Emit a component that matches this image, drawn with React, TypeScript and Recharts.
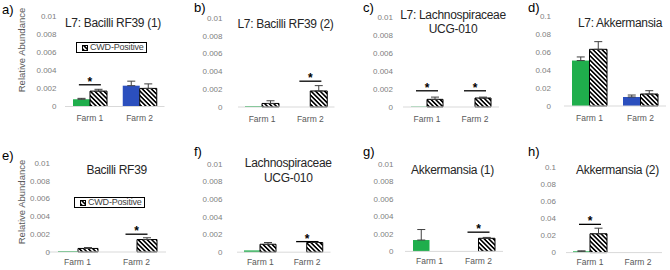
import React from 'react';
import { ComposedChart, Bar, XAxis, YAxis, ErrorBar, Line, Cell } from 'recharts';

// ---------- DATA ----------
const farms = ['Farm 1', 'Farm 2'];
const smallTicks = [0, 0.002, 0.004, 0.006, 0.008, 0.01];
const largeTicks = [0, 0.02, 0.04, 0.06, 0.08, 0.1];

// a) L7: Bacilli RF39 (1)
const aNeg = [0.0008, 0.0023];
const aNegErr = [0.0001, 0.0005];
const aPos = [0.0017, 0.002];
const aPosErr = [0.0002, 0.0005];
const aSig = [0.0024, null];

// b) L7: Bacilli RF39 (2)
const bNeg = [0.0001, 0];
const bNegErr = [null, null];
const bPos = [0.0004, 0.0018];
const bPosErr = [0.0003, 0.0006];
const bSig = [null, 0.0029];

// c) L7: Lachnospiraceae UCG-010
const cNeg = [0.00005, 0];
const cNegErr = [null, null];
const cPos = [0.00085, 0.001];
const cPosErr = [0.00025, 0.0001];
const cSig = [0.0018, 0.0018];

// d) L7: Akkermansia
const dNeg = [0.0505, 0.01];
const dNegErr = [0.004, 0.0022];
const dPos = [0.063, 0.0133];
const dPosErr = [0.0085, 0.0037];
const dSig = [null, null];

// e) Bacilli RF39
const eNeg = [0.0001, 0];
const eNegErr = [null, null];
const ePos = [0.0004, 0.0014];
const ePosErr = [0.0001, 0.0002];
const eSig = [null, 0.002];

// f) Lachnospiraceae UCG-010
const fNeg = [0.0002, 0];
const fNegErr = [null, null];
const fPos = [0.0009, 0.0011];
const fPosErr = [0.0002, 0.0001];
const fSig = [null, 0.0012];

// g) Akkermansia (1)
const gNeg = [0.0013, 0];
const gNegErr = [0.0012, null];
const gPos = [0, 0.0015];
const gPosErr = [null, 0.0001];
const gSig = [null, 0.0022];

// h) Akkermansia (2)
const hNeg = [0.0015, 0];
const hNegErr = [0.0005, null];
const hPos = [0.022, 0];
const hPosErr = [0.0065, null];
const hSig = [0.033, null];

// ---------- STYLE ----------
const FONT = "'Liberation Sans', Arial, sans-serif";
const negColors = ['#1fae4c', '#2b4fbe'];

function build(neg: number[], negErr: (number | null)[], pos: number[], posErr: (number | null)[], sig: (number | null)[]) {
  return farms.map((cat, i) => ({
    cat,
    neg: neg[i],
    negErr: negErr[i] == null ? null : [0, negErr[i]],
    pos: pos[i],
    posErr: posErr[i] == null ? null : [0, posErr[i]],
    sig: sig[i],
  }));
}

const fmt = (v: number) => String(Number(v.toFixed(4)));

const renderSig = (props: any) => {
  const { cx, cy, value, index } = props;
  if (value == null || cx == null || cy == null || isNaN(cy)) return <g key={`s${index}`} />;
  return (
    <g key={`s${index}`}>
      <line x1={cx - 11} x2={cx + 11} y1={cy} y2={cy} stroke="#000" strokeWidth={1.3} />
      <text x={cx} y={cy + 1} textAnchor="middle" fontSize={12} fontWeight="bold" fill="#000">*</text>
    </g>
  );
};

type Cfg = {
  x0: number; x1: number; yt: number; yb: number; tr: number; bar: number; xm: number;
  max: number; ticks: number[]; data: any[];
  letter: string; lx: number; ly: number;
  title: string[]; tx: number; ty: number;
};

const panels: Cfg[] = [
  { x0: 64.5, x1: 164, yt: 16, yb: 106.5, tr: 56, bar: 17, xm: 8.5, max: 0.01, ticks: smallTicks,
    data: build(aNeg, aNegErr, aPos, aPosErr, aSig), letter: 'a)', lx: 2, ly: 10, title: ['L7: Bacilli RF39 (1)'], tx: 113, ty: 23 },
  { x0: 237.5, x1: 334, yt: 17.5, yb: 106.5, tr: 222, bar: 17, xm: 8.5, max: 0.01, ticks: smallTicks,
    data: build(bNeg, bNegErr, bPos, bPosErr, bSig), letter: 'b)', lx: 194, ly: 8, title: ['L7: Bacilli RF39 (2)'], tx: 285.5, ty: 24 },
  { x0: 403, x1: 499, yt: 16.5, yb: 106.5, tr: 393, bar: 16, xm: 8.5, max: 0.01, ticks: smallTicks,
    data: build(cNeg, cNegErr, cPos, cPosErr, cSig), letter: 'c)', lx: 363, ly: 8, title: ['L7: Lachnospiraceae', 'UCG-010'], tx: 453, ty: 15 },
  { x0: 564, x1: 666, yt: 16, yb: 106, tr: 551, bar: 17.5, xm: 8.5, max: 0.1, ticks: largeTicks,
    data: build(dNeg, dNegErr, dPos, dPosErr, dSig), letter: 'd)', lx: 528, ly: 8, title: ['L7: Akkermansia'], tx: 620, ty: 23 },
  { x0: 48, x1: 166, yt: 163.3, yb: 252.3, tr: 50, bar: 20, xm: 6.5, max: 0.01, ticks: smallTicks,
    data: build(eNeg, eNegErr, ePos, ePosErr, eSig), letter: 'e)', lx: 2, ly: 156, title: ['Bacilli RF39'], tx: 116.7, ty: 170 },
  { x0: 236.5, x1: 330, yt: 164.3, yb: 252.5, tr: 222, bar: 16, xm: 6.5, max: 0.01, ticks: smallTicks,
    data: build(fNeg, fNegErr, fPos, fPosErr, fSig), letter: 'f)', lx: 194, ly: 152, title: ['Lachnospiraceae', 'UCG-010'], tx: 288.3, ty: 163.3 },
  { x0: 404.5, x1: 502.5, yt: 164.3, yb: 251.7, tr: 393, bar: 16.5, xm: 6.5, max: 0.01, ticks: smallTicks,
    data: build(gNeg, gNegErr, gPos, gPosErr, gSig), letter: 'g)', lx: 363, ly: 152, title: ['Akkermansia (1)'], tx: 452.5, ty: 170 },
  { x0: 566, x1: 662, yt: 166.7, yb: 252.3, tr: 556, bar: 17, xm: 6.5, max: 0.1, ticks: largeTicks,
    data: build(hNeg, hNegErr, hPos, hPosErr, hSig), letter: 'h)', lx: 528, ly: 152, title: ['Akkermansia (2)'], tx: 617.5, ty: 170 },
];

function Panel({ cfg }: { cfg: Cfg }) {
  const mt = 6, mr = 2, yw = 48, xh = 22;
  const w = yw + (cfg.x1 - cfg.x0) + mr;
  const h = mt + (cfg.yb - cfg.yt) + xh;
  return (
    <div style={{ position: 'absolute', left: cfg.x0 - yw, top: cfg.yt - mt }}>
      <ComposedChart width={w} height={h} data={cfg.data} margin={{ top: mt, right: mr, bottom: 0, left: 0 }} barGap={0} barSize={cfg.bar}>
        <XAxis dataKey="cat" height={xh} axisLine={{ stroke: '#d9d9d9' }} tickLine={false} tickSize={0}
          tickMargin={cfg.xm} tick={{ fill: '#595959', fontSize: 8.5 }} interval={0} />
        <YAxis width={yw} type="number" domain={[0, cfg.max]} ticks={cfg.ticks} axisLine={false} tickLine={false}
          tickSize={0} tickMargin={cfg.x0 - cfg.tr} tick={{ fill: '#808080', fontSize: 8 }} tickFormatter={fmt} interval={0} />
        <Bar dataKey="neg" isAnimationActive={false}>
          {cfg.data.map((_d, i) => <Cell key={i} fill={negColors[i]} />)}
          <ErrorBar dataKey="negErr" width={4} stroke="#404040" strokeWidth={1} direction="y" />
        </Bar>
        <Bar dataKey="pos" fill="url(#hatch)" stroke="#000" strokeWidth={1} isAnimationActive={false}>
          <ErrorBar dataKey="posErr" width={4} stroke="#404040" strokeWidth={1} direction="y" />
        </Bar>
        <Line dataKey="sig" stroke="none" dot={renderSig} activeDot={false} isAnimationActive={false} legendType="none" />
      </ComposedChart>
    </div>
  );
}

function LegendBox({ left, top }: { left: number; top: number }) {
  return (
    <div style={{ position: 'absolute', left, top, width: 71, height: 11, border: '1.3px solid #000', boxSizing: 'border-box',
      display: 'flex', alignItems: 'center', paddingLeft: 5, fontSize: 9, color: '#404040', lineHeight: '9px',
      background: '#fff', whiteSpace: 'nowrap', letterSpacing: -0.2 }}>
      <svg width={6} height={6} style={{ marginRight: 2, flex: 'none' }}>
        <rect x={0.5} y={0.5} width={5} height={5} fill="url(#hatch)" stroke="#000" strokeWidth={1} />
      </svg>
      <span>CWD-Positive</span>
    </div>
  );
}

function YLabel({ cx, cy }: { cx: number; cy: number }) {
  return (
    <div style={{ position: 'absolute', left: cx - 50, top: cy - 6, width: 100, height: 12, lineHeight: '12px',
      textAlign: 'center', fontSize: 9.5, color: '#595959', transform: 'rotate(-90deg)', whiteSpace: 'nowrap' }}>
      Relative Abundance
    </div>
  );
}

export default function App() {
  return (
    <div style={{ position: 'absolute', left: 0, top: 0, width: 670, height: 270, background: '#fff', fontFamily: FONT, overflow: 'hidden' }}>
      <svg width={0} height={0} style={{ position: 'absolute' }}>
        <defs>
          <pattern id="hatch" patternUnits="userSpaceOnUse" width={3.2} height={3.2} patternTransform="rotate(-45)">
            <rect width={3.2} height={3.2} fill="#fff" />
            <rect width={1.6} height={3.2} fill="#000" />
          </pattern>
        </defs>
      </svg>
      {panels.map((p, i) => <Panel key={i} cfg={p} />)}
      {panels.map((p, i) => (
        <div key={`l${i}`} style={{ position: 'absolute', left: p.lx, top: p.ly - 7, fontSize: 13, lineHeight: '14px', color: '#000' }}>{p.letter}</div>
      ))}
      {panels.map((p, i) => (
        <div key={`t${i}`} style={{ position: 'absolute', left: p.tx - 70, top: p.ty - 7.25, width: 140, textAlign: 'center',
          fontSize: 12, letterSpacing: -0.3, lineHeight: '14.5px', color: '#262626', whiteSpace: 'nowrap' }}>
          {p.title.map((t, j) => <div key={j}>{t}</div>)}
        </div>
      ))}
      <YLabel cx={22} cy={50} />
      <YLabel cx={22} cy={202} />
      <LegendBox left={76} top={42} />
      <LegendBox left={74} top={197} />
    </div>
  );
}
